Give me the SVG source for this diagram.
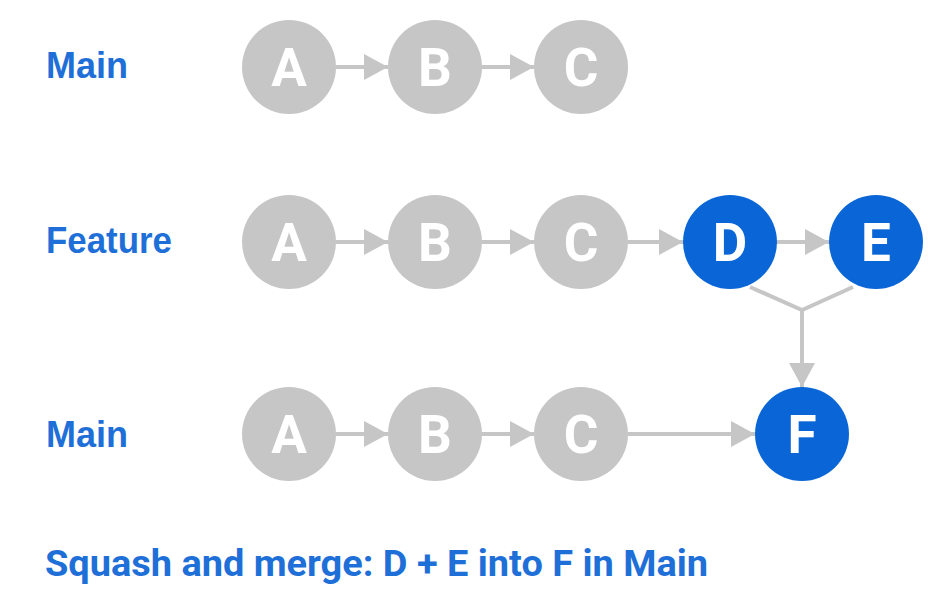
<svg xmlns="http://www.w3.org/2000/svg" width="951" height="614" viewBox="0 0 951 614">
<defs>
<style>
.lbl{font-family:"Liberation Sans",Arial,sans-serif;font-weight:bold;font-size:36px;fill:#1e6fd7}
.cap{font-family:Roboto,"Liberation Sans",sans-serif;font-weight:bold;font-size:37px;fill:#1e6fd7}
.g{fill:#c6c6c6}
.b{fill:#0a66d6}
.t{font-family:Roboto,"Liberation Sans",sans-serif;font-weight:bold;font-size:53px;fill:#ffffff;text-anchor:middle}
.c{stroke:#c6c6c6;stroke-width:4;fill:none}
</style>
<marker id="ah" viewBox="0 0 24 26" refX="24" refY="13" markerWidth="24" markerHeight="26" markerUnits="userSpaceOnUse" orient="auto">
<path d="M0,0 L24,13 L0,26 z" fill="#c6c6c6"/>
</marker>
</defs>
<rect width="951" height="614" fill="#ffffff"/>
<text class="lbl" x="46" y="78">Main</text>
<text class="lbl" x="46" y="253" textLength="126" lengthAdjust="spacingAndGlyphs">Feature</text>
<text class="lbl" x="46" y="447">Main</text>
<text class="cap" x="45" y="576" textLength="663" lengthAdjust="spacingAndGlyphs">Squash and merge: D + E into F in Main</text>
<g id="connectors">
<line class="c" x1="336" y1="67" x2="388" y2="67" marker-end="url(#ah)"/>
<line class="c" x1="482" y1="67" x2="534" y2="67" marker-end="url(#ah)"/>
<line class="c" x1="336" y1="242" x2="388" y2="242" marker-end="url(#ah)"/>
<line class="c" x1="482" y1="242" x2="534" y2="242" marker-end="url(#ah)"/>
<line class="c" x1="628" y1="242" x2="683" y2="242" marker-end="url(#ah)"/>
<line class="c" x1="777" y1="242" x2="829" y2="242" marker-end="url(#ah)"/>
<line class="c" x1="336" y1="434" x2="388" y2="434" marker-end="url(#ah)"/>
<line class="c" x1="482" y1="434" x2="534" y2="434" marker-end="url(#ah)"/>
<line class="c" x1="628" y1="434" x2="755" y2="434" marker-end="url(#ah)"/>
<polyline class="c" points="750,287 802,310 853,287"/>
<line class="c" x1="802" y1="310" x2="802" y2="387" marker-end="url(#ah)"/>
</g>
<g id="main1-A"><circle class="g" cx="289" cy="67" r="47"/><text class="t" x="289" y="86">A</text></g>
<g id="main1-B"><circle class="g" cx="435" cy="67" r="47"/><text class="t" x="435" y="86">B</text></g>
<g id="main1-C"><circle class="g" cx="581" cy="67" r="47"/><text class="t" x="581" y="86">C</text></g>
<g id="feature-A"><circle class="g" cx="289" cy="242" r="47"/><text class="t" x="289" y="261">A</text></g>
<g id="feature-B"><circle class="g" cx="435" cy="242" r="47"/><text class="t" x="435" y="261">B</text></g>
<g id="feature-C"><circle class="g" cx="581" cy="242" r="47"/><text class="t" x="581" y="261">C</text></g>
<g id="feature-D"><circle class="b" cx="730" cy="242" r="47"/><text class="t" x="730" y="261">D</text></g>
<g id="feature-E"><circle class="b" cx="876" cy="242" r="47"/><text class="t" x="876" y="261">E</text></g>
<g id="main2-A"><circle class="g" cx="289" cy="434" r="47"/><text class="t" x="289" y="453">A</text></g>
<g id="main2-B"><circle class="g" cx="435" cy="434" r="47"/><text class="t" x="435" y="453">B</text></g>
<g id="main2-C"><circle class="g" cx="581" cy="434" r="47"/><text class="t" x="581" y="453">C</text></g>
<g id="main2-F"><circle class="b" cx="802" cy="434" r="47"/><text class="t" x="802" y="453">F</text></g>
</svg>
